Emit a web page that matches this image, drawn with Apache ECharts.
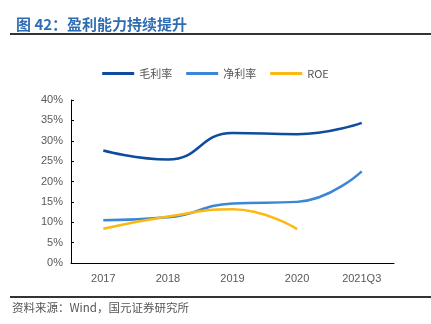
<!DOCTYPE html>
<html><head><meta charset="utf-8">
<script src="https://cdn.jsdelivr.net/npm/echarts@6/dist/echarts.min.js"></script>
<style>html,body{margin:0;padding:0;background:#fff}#c{width:431px;height:324px}</style>
</head><body><div id="c"></div>
<script>
var categories = ['2017', '2018', '2019', '2020', '2021Q3'];
var grossMargin = [27.6, 25.4, 31.9, 31.6, 34.4];
var netMargin = [10.5, 11.2, 14.6, 15.0, 22.5];
var roe = [8.4, 11.4, 13.2, 8.3];
var yTicks = [0, 5, 10, 15, 20, 25, 30, 35, 40];

var cjk = '"Noto Sans CJK SC", sans-serif';
var chart = echarts.init(document.getElementById('c'));
chart.setOption({
  animation: false,
  title: {
    text: '图 42：盈利能力持续提升',
    left: 11, top: 12,
    textStyle: { color: '#2f6db3', fontSize: 15, fontWeight: 'bold', fontFamily: cjk }
  },
  graphic: [
    { type: 'rect', shape: { x: 10, y: 33, width: 421, height: 2 }, style: { fill: '#333' } },
    { type: 'rect', shape: { x: 10, y: 296, width: 421, height: 2 }, style: { fill: '#333' } },
    { type: 'text', left: 12, top: 302, style: { text: '资料来源：Wind，国元证券研究所', fill: '#555', fontSize: 11.5, fontFamily: cjk } }
  ],
  legend: {
    top: 63, left: 'center',
    itemWidth: 32, itemHeight: 3, itemGap: 14,
    icon: 'rect',
    textStyle: { color: '#555', fontSize: 11, fontFamily: cjk },
    data: ['毛利率', '净利率', 'ROE']
  },
  grid: { left: 71, right: 37, top: 100, bottom: 61 },
  xAxis: {
    type: 'category', data: categories, boundaryGap: true,
    axisLine: { lineStyle: { color: '#000', width: 1 } },
    axisTick: { inside: true, length: 3, lineStyle: { color: '#000' } },
    axisLabel: { color: '#595959', fontSize: 11, margin: 10, fontFamily: 'Liberation Sans, Arial, sans-serif' }
  },
  yAxis: {
    type: 'value', min: 0, max: 40, interval: 5,
    axisLine: { show: true, lineStyle: { color: '#000', width: 1 } },
    axisTick: { show: true, inside: true, length: 3, lineStyle: { color: '#000' } },
    splitLine: { show: false },
    axisLabel: { color: '#595959', fontSize: 11, margin: 8, fontFamily: 'Liberation Sans, Arial, sans-serif',
      formatter: function (v) { return v + '%'; } }
  },
  series: [
    { name: '毛利率', type: 'line', data: grossMargin, smooth: 0.5, symbol: 'none',
      lineStyle: { color: '#0f4c9c', width: 2.5 }, itemStyle: { color: '#0f4c9c' } },
    { name: '净利率', type: 'line', data: netMargin, smooth: 0.5, symbol: 'none',
      lineStyle: { color: '#3b87d6', width: 2.5 }, itemStyle: { color: '#3b87d6' } },
    { name: 'ROE', type: 'line', data: roe, smooth: 0.5, symbol: 'none',
      lineStyle: { color: '#fdb813', width: 2.5 }, itemStyle: { color: '#fdb813' } }
  ]
});
</script></body></html>
